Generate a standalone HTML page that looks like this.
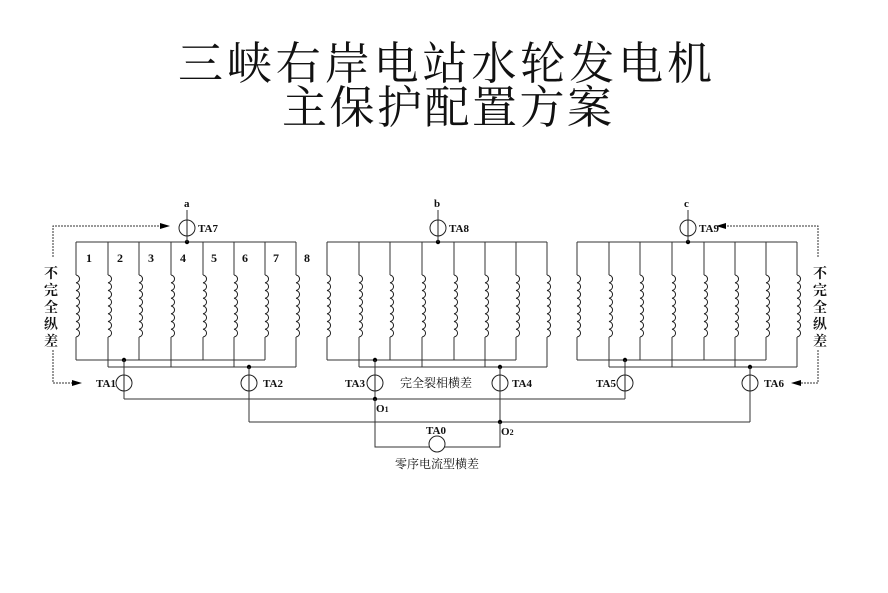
<!DOCTYPE html>
<html><head><meta charset="utf-8"><style>
html,body{margin:0;padding:0;background:#fff;}
body{width:888px;height:588px;overflow:hidden;}
svg text{font-family:"Liberation Serif","Noto Serif CJK SC",serif;}
</style></head><body>
<svg width="888" height="588" viewBox="0 0 888 588" xmlns="http://www.w3.org/2000/svg">
<defs>
<symbol id="coil" overflow="visible"><path d="M0,0 a4,3.9 0 0 1 0,7.75 a4,3.9 0 0 1 0,7.75 a4,3.9 0 0 1 0,7.75 a4,3.9 0 0 1 0,7.75 a4,3.9 0 0 1 0,7.75 a4,3.9 0 0 1 0,7.75 a4,3.9 0 0 1 0,7.75 a4,3.9 0 0 1 0,7.75" fill="none" stroke="#222" stroke-width="1"/></symbol>
<g id="co"><line x1="0" y1="0" x2="0" y2="33" stroke="#333"/><use href="#coil" y="33"/><line x1="0" y1="95" x2="0" y2="118" stroke="#333"/></g>
<g id="ce"><line x1="0" y1="0" x2="0" y2="33" stroke="#333"/><use href="#coil" y="33"/><line x1="0" y1="95" x2="0" y2="125" stroke="#333"/></g>
<g id="grp">
<line x1="76" y1="242" x2="296" y2="242" stroke="#333"/>
<line x1="76" y1="360" x2="265" y2="360" stroke="#333"/>
<line x1="108" y1="367" x2="296" y2="367" stroke="#333"/>
<use href="#co" x="76" y="242"/><use href="#ce" x="108" y="242"/>
<use href="#co" x="139" y="242"/><use href="#ce" x="171" y="242"/>
<use href="#co" x="203" y="242"/><use href="#ce" x="234" y="242"/>
<use href="#co" x="265" y="242"/><use href="#ce" x="296" y="242"/>
<circle cx="187" cy="242" r="2.2" fill="#000"/>
<line x1="187" y1="210" x2="187" y2="242" stroke="#333"/>
<circle cx="187" cy="228" r="8" fill="#fff" stroke="#222"/>
<line x1="187" y1="220" x2="187" y2="236" stroke="#222"/>
<circle cx="124" cy="360" r="2.2" fill="#000"/>
<circle cx="249" cy="367" r="2.2" fill="#000"/>
<line x1="124" y1="360" x2="124" y2="399" stroke="#333"/>
<line x1="249" y1="367" x2="249" y2="422" stroke="#333"/>
<circle cx="124" cy="383" r="8" fill="#fff" stroke="#222"/>
<line x1="124" y1="375" x2="124" y2="391" stroke="#222"/>
<circle cx="249" cy="383" r="8" fill="#fff" stroke="#222"/>
<line x1="249" y1="375" x2="249" y2="391" stroke="#222"/>
</g>
</defs>
<text x="178" y="79" font-size="45" textLength="534" lengthAdjust="spacing" fill="#111">三峡右岸电站水轮发电机</text>
<text x="282" y="123" font-size="45" textLength="330" lengthAdjust="spacing" fill="#111">主保护配置方案</text>

<use href="#grp"/>
<use href="#grp" x="251"/>
<use href="#grp" x="501"/>

<g font-size="12" font-weight="bold" font-family="Liberation Sans,sans-serif" fill="#111">
<text x="86" y="262">1</text><text x="117" y="262">2</text><text x="148" y="262">3</text><text x="180" y="262">4</text>
<text x="211" y="262">5</text><text x="242" y="262">6</text><text x="273" y="262">7</text><text x="304" y="262">8</text>
</g>
<g font-size="11" font-weight="bold" fill="#111">
<text x="184" y="207">a</text><text x="434" y="207">b</text><text x="684" y="207">c</text>
<text x="198" y="232">TA7</text><text x="449" y="232">TA8</text><text x="699" y="232">TA9</text>
<text x="96" y="387">TA1</text><text x="263" y="387">TA2</text>
<text x="345" y="387">TA3</text><text x="512" y="387">TA4</text>
<text x="596" y="387">TA5</text><text x="764" y="387">TA6</text>
<text x="376" y="412">O<tspan font-size="8">1</tspan></text>
<text x="501" y="435">O<tspan font-size="8">2</tspan></text>
<text x="426" y="434">TA0</text>
</g>
<text x="400" y="387" font-size="12" fill="#111">完全裂相横差</text>
<text x="395" y="468" font-size="12" fill="#111">零序电流型横差</text>

<line x1="124" y1="399" x2="625" y2="399" stroke="#333"/>
<line x1="249" y1="422" x2="750" y2="422" stroke="#333"/>
<circle cx="375" cy="399" r="2.2" fill="#000"/>
<circle cx="500" cy="422" r="2.2" fill="#000"/>
<polyline points="375,399 375,447 500,447 500,422" fill="none" stroke="#333"/>
<circle cx="437" cy="444" r="8" fill="#fff" stroke="#222"/>

<g stroke="#333" fill="none" stroke-dasharray="2,1">
<polyline points="168,226 53,226 53,258"/>
<polyline points="53,350 53,383 78,383"/>
<polyline points="718,226 818,226 818,258"/>
<polyline points="818,350 818,383 795,383"/>
</g>
<polygon points="170,226 160,223 160,229" fill="#000"/>
<polygon points="82,383 72,380 72,386" fill="#000"/>
<polygon points="716,226 726,223 726,229" fill="#000"/>
<polygon points="791,383 801,380 801,386" fill="#000"/>
<g font-size="14" font-weight="bold" fill="#111" text-anchor="middle">
<text x="51" y="278">不</text><text x="51" y="295">完</text><text x="51" y="312">全</text><text x="51" y="329">纵</text><text x="51" y="346">差</text>
<text x="820" y="278">不</text><text x="820" y="295">完</text><text x="820" y="312">全</text><text x="820" y="329">纵</text><text x="820" y="346">差</text>
</g>
</svg>
</body></html>
